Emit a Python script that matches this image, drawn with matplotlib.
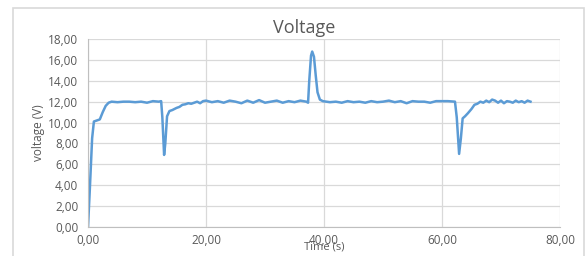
import matplotlib
matplotlib.use("Agg")
from matplotlib import pyplot as plt
from matplotlib.patches import Rectangle

# Values
time_s = [0, 0.3, 0.7, 1.0, 1.5, 2.0, 2.5, 3.0, 3.5, 4.0, 5, 6, 7, 8, 9, 10, 11, 12,
          12.4, 12.6, 12.9, 13.1, 13.4, 13.8, 14.3, 15, 15.5, 16, 16.5, 17, 17.5, 18,
          18.5, 19, 19.5, 20, 21, 22, 23, 24, 25, 26, 27, 28, 29, 30, 31, 32, 33, 34,
          35, 36, 37, 37.3, 37.5, 37.8, 38.0, 38.3, 38.6, 38.9, 39.3, 39.8, 41, 42,
          43, 44, 45, 46, 47, 48, 49, 50, 51, 52, 53, 54, 55, 56, 57, 58, 59, 60, 61,
          62.2, 62.5, 62.9, 63.2, 63.5, 63.9, 64.4, 65, 65.5, 66, 66.5, 67, 67.5, 68,
          68.5, 69, 69.5, 70, 70.5, 71, 71.5, 72, 72.5, 73, 73.5, 74, 74.5, 75]
voltage = [0, 3.5, 8.5, 10.1, 10.2, 10.3, 11.0, 11.6, 11.9, 12.0, 11.95, 12.0, 12.0,
           11.95, 12.0, 11.9, 12.05, 12.0,
           12.05, 10.5, 6.9, 8.0, 10.6, 11.1, 11.2, 11.4, 11.5, 11.7, 11.75, 11.85, 11.8, 11.9,
           12.0, 11.85, 12.05, 12.1, 11.95, 12.05, 11.9, 12.1, 12.0, 11.85, 12.1, 11.9, 12.15,
           11.9, 12.0, 12.1, 11.9, 12.05,
           11.95, 12.1, 12.0, 11.9, 14.0, 16.4, 16.8, 16.3, 14.5, 12.9, 12.2, 12.05, 11.95, 12.0,
           11.9, 12.05, 11.95, 12.0, 11.9, 12.05, 11.95, 12.0, 12.1, 11.95, 12.05, 11.85, 12.05,
           12.0, 12.0, 11.9, 12.05, 12.05, 12.05,
           12.0, 10.5, 7.0, 8.5, 10.4, 10.6, 10.9, 11.3, 11.7, 11.8, 12.0, 11.9, 12.1, 11.95,
           12.2, 12.1, 11.9, 12.1, 11.85, 12.05, 12.0, 11.9, 12.1, 11.95, 12.05, 11.9, 12.1, 12.0]

x_ticks = [0, 20, 40, 60, 80]
y_ticks = [0, 2, 4, 6, 8, 10, 12, 14, 16, 18]

plt.rcParams['font.family'] = ['Open Sans', 'DejaVu Sans']
grey = "#595959"

fig = plt.figure(figsize=(5.86, 2.56), dpi=100)
fig.patches.append(Rectangle((13 / 586, -0.05), 571 / 586, 1.05 - 8 / 256,
                             transform=fig.transFigure, fill=False,
                             edgecolor="#d9d9d9", linewidth=1.2))

ax = fig.add_axes([88 / 586, 1 - 227 / 256, 472 / 586, 188 / 256])
ax.plot(time_s, voltage, color="#5B9BD5", linewidth=1.8)

ax.set_xlim(0, 80)
ax.set_ylim(0, 18)
ax.set_xticks(x_ticks)
ax.set_yticks(y_ticks)
ax.set_xticklabels([f"{v:.2f}".replace(".", ",") for v in x_ticks])
ax.set_yticklabels([f"{v:.2f}".replace(".", ",") for v in y_ticks])
ax.grid(True, color="#d9d9d9", linewidth=0.9)
ax.set_axisbelow(True)
for side in ["top", "right"]:
    ax.spines[side].set_visible(False)
for side in ["left", "bottom"]:
    ax.spines[side].set_color("#bfbfbf")
ax.tick_params(length=0, labelsize=8.5, colors=grey)
ax.tick_params(axis="y", pad=7)
ax.tick_params(axis="x", pad=5)

ax.set_title("Voltage", color=grey, fontsize=13, pad=4, x=(304 - 88) / 472)
ax.set_xlabel("Time (s)", color=grey, fontsize=8, labelpad=-4)
ax.set_ylabel("voltage (V)", color=grey, fontsize=8.5, labelpad=2)

fig.savefig("out.png", dpi=100)
